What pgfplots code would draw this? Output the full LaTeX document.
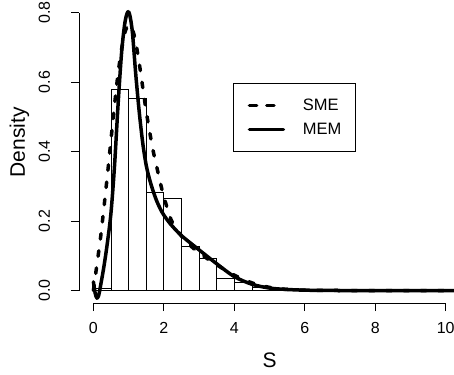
\documentclass[border=0pt]{standalone}
\usepackage{pgfplots}
\pgfplotsset{compat=1.18}
\usepackage{fontspec}
\setmainfont{Liberation Sans}
\begin{document}
\begin{tikzpicture}[x=1bp,y=1bp]
\useasboundingbox (0,0) rectangle (454,374);
\begin{axis}[
  at={(79bp,71bp)}, anchor=south west,
  scale only axis, width=375bp, height=303bp,
  xmin=-0.409, xmax=10.236, ymin=-0.036, ymax=0.8366,
  clip=false,
  axis x line*=bottom, axis y line*=left,
  axis line style={draw=none},
  tick align=outside, major tick length=8bp,
  tick style={black, line width=0.8bp},
  xtick={0,2,4,6,8,10}, ytick={0,0.2,0.4,0.6,0.8},
  /pgf/number format/assume math mode=true,
  tick label style={font=\fontsize{16bp}{19bp}\selectfont},
  xticklabel style={anchor=base, yshift=-22.3bp},
  yticklabel style={/pgf/number format/.cd, fixed, fixed zerofill, precision=1, /tikz/.cd, anchor=base, xshift=-21bp, rotate=90},
  xlabel={S}, ylabel={Density},
  label style={font=\fontsize{21bp}{25bp}\selectfont},
  xlabel style={at={(rel axis cs:0.5,0)}, anchor=center, xshift=3bp, yshift=-57bp},
  ylabel style={at={(rel axis cs:0,0.5)}, anchor=center, xshift=9bp, yshift=59.5bp},
  legend style={at={(axis cs:3.971,0.5984)}, anchor=north west, draw=black, line width=0.8bp, fill=white,
    inner xsep=14bp, inner ysep=15.7bp, row sep=11.2bp, nodes={inner sep=0bp},
    font=\fontsize{16.5bp}{19bp}\selectfont,
    /tikz/every odd column/.append style={column sep=17.7bp}},
  legend cell align=left,
  legend image code/.code={\draw[#1] (1.75bp,0bp) -- (32.25bp,0bp); \path (0bp,0bp) -- (34bp,0bp);},
]
\addplot[ybar interval, fill=white, draw=black, line width=0.8bp, forget plot] coordinates {
(0,0.006) (0.5,0.578) (1,0.553) (1.5,0.283) (2,0.2655) (2.5,0.128) (3,0.0936) (3.5,0.034) (4,0.024) (4.5,0.008) (5,0.002) (5.5,0)};
\addplot[black, line width=3.5bp, dash pattern=on 5.5bp off 11.8bp, line cap=round, line join=round, smooth, tension=0.5] coordinates {
(0,0) (0.1,0.075) (0.2,0.15) (0.3,0.24) (0.4,0.335) (0.5,0.435) (0.6,0.535) (0.7,0.625) (0.8,0.695) (0.9,0.745) (1.0,0.765) (1.1,0.755) (1.2,0.715) (1.3,0.655) (1.4,0.585) (1.5,0.515) (1.6,0.455) (1.7,0.4) (1.8,0.355) (1.9,0.31) (2.0,0.27) (2.2,0.205) (2.4,0.17) (2.6,0.145) (2.8,0.125) (3.0,0.108) (3.5,0.074) (4.0,0.044) (4.5,0.022) (5,0.009) (5.5,0.003) (6,0.001) (7,0) (10.236,0)};
\addlegendentry{SME}
\addplot[black, line width=3.5bp, line cap=round, line join=round, smooth, tension=0.5] coordinates {
(0,0.025) (0.05,-0.008) (0.1,-0.022) (0.15,-0.014) (0.2,0.012) (0.3,0.07) (0.4,0.14) (0.5,0.225) (0.6,0.36) (0.7,0.535) (0.8,0.685) (0.9,0.775) (1.0,0.803) (1.1,0.75) (1.2,0.625) (1.3,0.515) (1.4,0.425) (1.5,0.36) (1.6,0.318) (1.7,0.285) (1.8,0.257) (1.9,0.235) (2.0,0.217) (2.2,0.19) (2.5,0.158) (3.0,0.117) (3.5,0.077) (4.0,0.04) (4.5,0.018) (5,0.007) (5.5,0.003) (6,0.001) (7,0) (10.236,0)};
\addlegendentry{MEM}
\draw[black, line width=0.8bp] (axis cs:0,-0.036) -- (axis cs:10,-0.036);
\draw[black, line width=0.8bp] (axis cs:-0.409,0) -- (axis cs:-0.409,0.8);
\end{axis}
\end{tikzpicture}
\end{document}
